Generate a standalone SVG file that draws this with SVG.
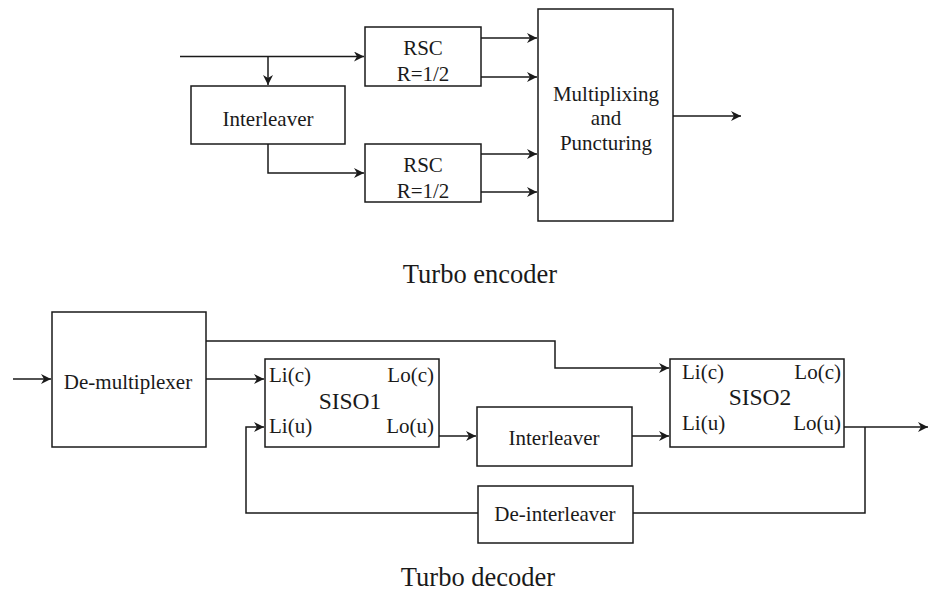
<svg xmlns="http://www.w3.org/2000/svg" width="929" height="592" viewBox="0 0 929 592">
<style>
.box{fill:#fff;stroke:#1a1a1a;stroke-width:1.5}
.ln{fill:none;stroke:#1a1a1a;stroke-width:1.5}
.t{font-family:"Liberation Serif","Times New Roman","DejaVu Serif",serif;font-size:21px;fill:#1a1a1a}
.c{text-anchor:middle}
.e{text-anchor:end}
.big{font-size:26.5px}
.siso{font-size:23.5px}
</style>
<defs>
<marker id="ah" markerWidth="11" markerHeight="10" refX="10" refY="5" orient="auto" markerUnits="userSpaceOnUse">
<path d="M0,0 L10,5 L0,10 L3,5 z" fill="#1a1a1a"/>
</marker>
</defs>
<rect width="929" height="592" fill="#fff"/>
<g id="connectors">
<path class="ln" d="M180,56.5 H364" marker-end="url(#ah)"/>
<path class="ln" d="M268,56.5 V85" marker-end="url(#ah)"/>
<path class="ln" d="M268,144 V173 H364" marker-end="url(#ah)"/>
<path class="ln" d="M481,38 H537" marker-end="url(#ah)"/>
<path class="ln" d="M481,77 H537" marker-end="url(#ah)"/>
<path class="ln" d="M481,154 H537" marker-end="url(#ah)"/>
<path class="ln" d="M481,192 H537" marker-end="url(#ah)"/>
<path class="ln" d="M673,116 H741" marker-end="url(#ah)"/>
<path class="ln" d="M13,379 H51" marker-end="url(#ah)"/>
<path class="ln" d="M206,379 H264" marker-end="url(#ah)"/>
<path class="ln" d="M206,341 H555 V368 H669" marker-end="url(#ah)"/>
<path class="ln" d="M439,436 H476" marker-end="url(#ah)"/>
<path class="ln" d="M632,436 H669" marker-end="url(#ah)"/>
<path class="ln" d="M844,427 H928" marker-end="url(#ah)"/>
<path class="ln" d="M865,427 V513 H633"/>
<path class="ln" d="M478,513 H246 V427 H264" marker-end="url(#ah)"/>
</g>
<g id="rsc1">
<rect class="box" x="365" y="27" width="116" height="59"/>
<text class="t c" x="423" y="55">RSC</text>
<text class="t c" x="423" y="81">R=1/2</text>
</g>
<g id="interleaver-enc">
<rect class="box" x="191" y="86" width="154" height="58"/>
<text class="t c" x="268" y="126">Interleaver</text>
</g>
<g id="rsc2">
<rect class="box" x="365" y="144" width="116" height="58"/>
<text class="t c" x="423" y="172">RSC</text>
<text class="t c" x="423" y="198">R=1/2</text>
</g>
<g id="mux">
<rect class="box" x="538" y="9" width="135" height="212"/>
<text class="t c" x="606" y="101">Multiplixing</text>
<text class="t c" x="606" y="125">and</text>
<text class="t c" x="606" y="150">Puncturing</text>
</g>
<g id="label-encoder">
<text class="t c big" x="480" y="283">Turbo encoder</text>
</g>
<g id="demux">
<rect class="box" x="52" y="312" width="154" height="135"/>
<text class="t c" x="128" y="389">De-multiplexer</text>
</g>
<g id="siso1">
<rect class="box" x="265" y="359" width="174" height="88"/>
<text class="t" x="269" y="382">Li(c)</text>
<text class="t e" x="434" y="382">Lo(c)</text>
<text class="t c siso" x="350" y="409">SISO1</text>
<text class="t" x="269" y="433">Li(u)</text>
<text class="t e" x="434" y="433">Lo(u)</text>
</g>
<g id="interleaver-dec">
<rect class="box" x="477" y="407" width="155" height="59"/>
<text class="t c" x="554" y="445">Interleaver</text>
</g>
<g id="siso2">
<rect class="box" x="670" y="359" width="174" height="88"/>
<text class="t" x="682" y="379">Li(c)</text>
<text class="t e" x="841" y="379">Lo(c)</text>
<text class="t c siso" x="760" y="405">SISO2</text>
<text class="t" x="682" y="430">Li(u)</text>
<text class="t e" x="841" y="430">Lo(u)</text>
</g>
<g id="deinterleaver">
<rect class="box" x="478" y="486" width="155" height="57"/>
<text class="t c" x="555" y="521">De-interleaver</text>
</g>
<g id="label-decoder">
<text class="t c big" x="478" y="586">Turbo decoder</text>
</g>
</svg>
